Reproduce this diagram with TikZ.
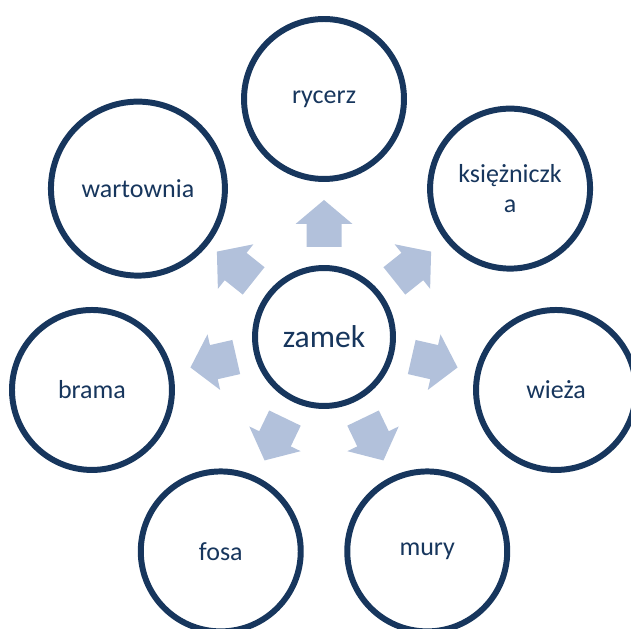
\documentclass[tikz,border=0pt]{standalone}
\usepackage{fontspec}
\setmainfont{Carlito}
\usetikzlibrary{positioning}

\definecolor{granat}{HTML}{17365D}
\definecolor{jasny}{HTML}{B2C1DB}

\tikzset{
  kolo/.style={circle, draw=granat, line width=3.4pt, fill=white, text=granat,
    minimum size=3.2cm, inner sep=0pt, align=center,
    font=\fontsize{14.8}{17}\selectfont},
  srodek/.style={kolo, minimum size=2.76cm, font=\fontsize{18}{21}\selectfont},
  blok/.style={fill=jasny}
}

\begin{document}
\begin{tikzpicture}[x=0.02cm, y=0.02cm]
\useasboundingbox (0,0) rectangle (631,628);
\node[srodek] (zamek) at (324,291) {zamek};
\node[kolo] (rycerz) at ([shift={(90:238)}]zamek.center) {rycerz};
\node[kolo] (ksiezniczka) at ([shift={(38.57:238)}]zamek.center) {księżniczk\\a};
\node[kolo] (wieza) at ([shift={(-12.86:238)}]zamek.center) {wieża};
\node[kolo] (mury) at ([shift={(-64.29:238)}]zamek.center) {mury};
\node[kolo] (fosa) at ([shift={(-115.71:238)}]zamek.center) {fosa};
\node[kolo] (brama) at ([shift={(-167.14:238)}]zamek.center) {brama};
\node[kolo, minimum size=3.48cm] (wartownia) at ([shift={(141.43:238)}]zamek.center) {wartownia};
% strzalki od srodka
\foreach \kat in {90, 38.57, -12.86, -64.29, -115.71, -167.14, 141.43} {
\begin{scope}[shift={(zamek.center)}, rotate=\kat]
\fill[blok] (90,-17.5) -- (113,-17.5) -- (113,-28.5) -- (137,0) -- (113,28.5) -- (113,17.5) -- (90,17.5) -- cycle;
\end{scope}
}
\end{tikzpicture}
\end{document}
